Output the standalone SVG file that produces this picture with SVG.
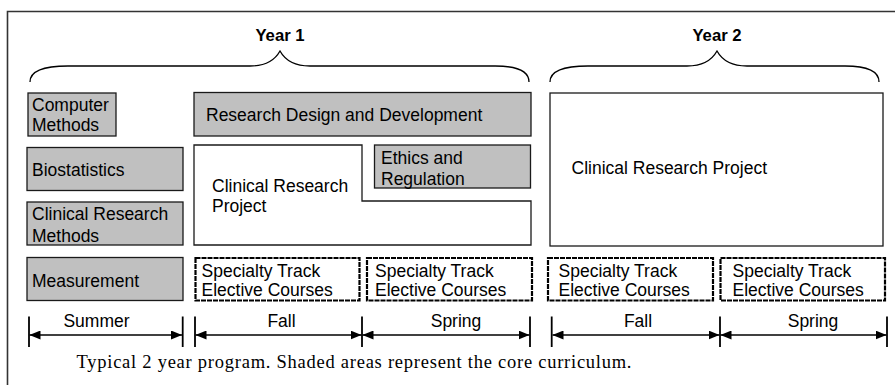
<svg xmlns="http://www.w3.org/2000/svg" width="895" height="385" viewBox="0 0 895 385">
<style>
  .lbl { font-family: "Liberation Sans", Arial, sans-serif; font-size: 17.5px; fill: #000; }
  .yr { font-family: "Liberation Sans", Arial, sans-serif; font-size: 16.7px; font-weight: bold; fill: #000; }
  .cap { font-family: "Liberation Serif", "Times New Roman", serif; font-size: 18.5px; fill: #000; }
  .core { fill: #c0c0c0; stroke: #1a1a1a; stroke-width: 1.3; }
  .proj { fill: #fff; stroke: #1a1a1a; stroke-width: 1.3; }
  .elec { fill: #fff; stroke: #000; stroke-width: 2.2; stroke-dasharray: 5 1; }
  .brace { fill: none; stroke: #000; stroke-width: 1.3; }
  .tick { stroke: #000; stroke-width: 1.8; }
  .arr { stroke: #000; stroke-width: 1.5; marker-start: url(#ah); marker-end: url(#ah); }
</style>
<defs>
  <marker id="ah" viewBox="0 0 11 9" refX="11" refY="4.5" markerWidth="11" markerHeight="9" markerUnits="userSpaceOnUse" orient="auto-start-reverse">
    <path d="M0,0 L11,4.5 L0,9 z" fill="#000"/>
  </marker>
</defs>
<rect width="895" height="385" fill="#fff"/>
<!-- frame -->
<path d="M7.5,385 V11.5 H895" fill="none" stroke="#333" stroke-width="1.6"/>

<!-- braces and year labels -->
<g id="year1">
  <path class="brace" d="M30,82 C30,72 42,66 68,66 L250,66 C266,66 275,60 280,51 C285,60 294,66 310,66 L495,66 C518,66 529,72 529,82"/>
  <text class="yr" x="280" y="41" text-anchor="middle">Year 1</text>
</g>
<g id="year2">
  <path class="brace" d="M550,82 C550,72 562,66 588,66 L687,66 C703,66 712,60 717,51 C722,60 731,66 747,66 L845,66 C868,66 879,72 879,82"/>
  <text class="yr" x="717" y="41" text-anchor="middle">Year 2</text>
</g>

<!-- summer core courses -->
<g id="computer-methods">
  <rect class="core" x="28" y="93" width="88" height="43"/>
  <text class="lbl" x="32" y="111">Computer</text>
  <text class="lbl" x="32" y="131">Methods</text>
</g>
<g id="biostatistics">
  <rect class="core" x="27" y="147.5" width="156" height="43"/>
  <text class="lbl" x="32" y="176">Biostatistics</text>
</g>
<g id="clinical-research-methods">
  <rect class="core" x="27" y="202" width="156" height="43"/>
  <text class="lbl" x="32" y="220">Clinical Research</text>
  <text class="lbl" x="32" y="241.5">Methods</text>
</g>
<g id="measurement">
  <rect class="core" x="27" y="257.5" width="156" height="43"/>
  <text class="lbl" x="32" y="286.5">Measurement</text>
</g>

<!-- year 1 fall/spring -->
<g id="research-design">
  <rect class="core" x="194" y="92.5" width="337" height="43.5"/>
  <text class="lbl" x="206" y="121">Research Design and Development</text>
</g>
<g id="clinical-research-project-1">
  <path class="proj" d="M194,145 H362 V201 H531 V245 H194 Z"/>
  <text class="lbl" x="212" y="191.5">Clinical Research</text>
  <text class="lbl" x="212" y="211.5">Project</text>
</g>
<g id="ethics">
  <rect class="core" x="374.5" y="145" width="156" height="43"/>
  <text class="lbl" x="381" y="164">Ethics and</text>
  <text class="lbl" x="381" y="185">Regulation</text>
</g>
<g id="elective-y1-fall">
  <rect class="elec" x="195.5" y="258" width="164" height="42.5"/>
  <text class="lbl" x="201.5" y="277">Specialty Track</text>
  <text class="lbl" x="201.5" y="296">Elective Courses</text>
</g>
<g id="elective-y1-spring">
  <rect class="elec" x="367" y="258" width="165" height="42.5"/>
  <text class="lbl" x="375" y="277">Specialty Track</text>
  <text class="lbl" x="375" y="296">Elective Courses</text>
</g>

<!-- year 2 -->
<g id="clinical-research-project-2">
  <rect class="proj" x="550" y="93" width="333" height="153"/>
  <text class="lbl" x="571.5" y="173.5">Clinical Research Project</text>
</g>
<g id="elective-y2-fall">
  <rect class="elec" x="548" y="258" width="165" height="42.5"/>
  <text class="lbl" x="558.5" y="277">Specialty Track</text>
  <text class="lbl" x="558.5" y="296">Elective Courses</text>
</g>
<g id="elective-y2-spring">
  <rect class="elec" x="720.5" y="258" width="164.5" height="42.5"/>
  <text class="lbl" x="732.5" y="277">Specialty Track</text>
  <text class="lbl" x="732.5" y="296">Elective Courses</text>
</g>

<!-- term timeline -->
<g id="connectors">
  <line class="tick" x1="29" y1="316.5" x2="29" y2="347"/>
  <line class="tick" x1="182.7" y1="316.5" x2="182.7" y2="347"/>
  <line class="tick" x1="195" y1="316.5" x2="195" y2="347"/>
  <line class="tick" x1="362" y1="316.5" x2="362" y2="347"/>
  <line class="tick" x1="530" y1="316.5" x2="530" y2="347"/>
  <line class="tick" x1="551.7" y1="316.5" x2="551.7" y2="347"/>
  <line class="tick" x1="720" y1="316.5" x2="720" y2="347"/>
  <line class="tick" x1="887" y1="316.5" x2="887" y2="347"/>
  <line class="arr" x1="29.5" y1="335" x2="182" y2="335"/>
  <line class="arr" x1="195.5" y1="335" x2="361.5" y2="335"/>
  <line class="arr" x1="362.5" y1="335" x2="529.5" y2="335"/>
  <line class="arr" x1="552.5" y1="335" x2="719.5" y2="335"/>
  <line class="arr" x1="720.5" y1="335" x2="886.5" y2="335"/>
</g>
<g id="term-labels">
  <text class="lbl" x="96.5" y="326.5" text-anchor="middle">Summer</text>
  <text class="lbl" x="281.5" y="326.5" text-anchor="middle">Fall</text>
  <text class="lbl" x="456" y="326.5" text-anchor="middle">Spring</text>
  <text class="lbl" x="638" y="326.5" text-anchor="middle">Fall</text>
  <text class="lbl" x="813" y="326.5" text-anchor="middle">Spring</text>
</g>

<text class="cap" x="76.5" y="368" textLength="555" lengthAdjust="spacing">Typical 2 year program. Shaded areas represent the core curriculum.</text>
</svg>
